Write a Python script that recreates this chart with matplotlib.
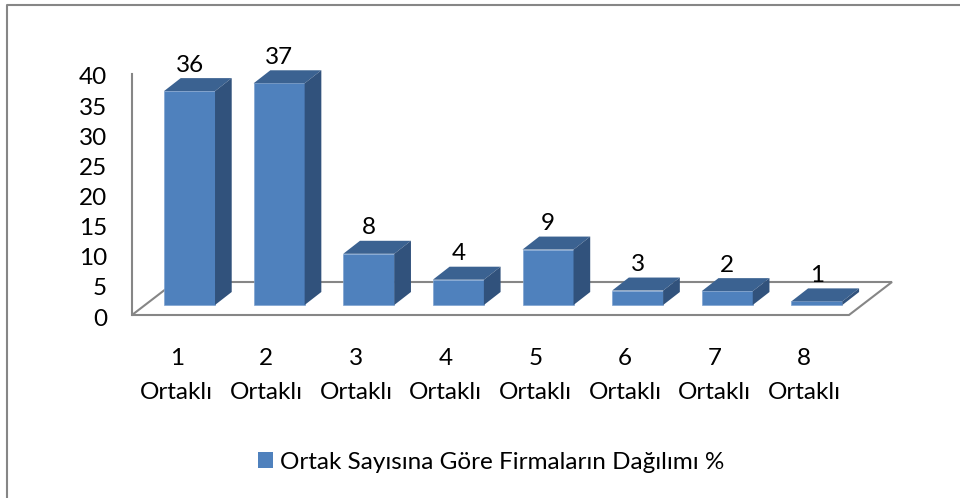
import matplotlib
matplotlib.use("Agg")
from matplotlib import pyplot as plt
from matplotlib.patches import Patch
from matplotlib.transforms import ScaledTranslation

plt.rcParams['font.family'] = ['Lato', 'DejaVu Sans']

# Veriler
categories = ["1\nOrtaklı", "2\nOrtaklı", "3\nOrtaklı", "4\nOrtaklı",
              "5\nOrtaklı", "6\nOrtaklı", "7\nOrtaklı", "8\nOrtaklı"]
values = [35.5, 36.8, 8.5, 4.2, 9.2, 2.4, 2.3, 0.6]
value_labels = ["36", "37", "8", "4", "9", "3", "2", "1"]
y_ticks = [0, 5, 10, 15, 20, 25, 30, 35, 40]
series_name = "Ortak Sayısına Göre Firmaların Dağılımı %"

W, H = 960, 498
FRONT = "#4f81bd"
TOP = "#3b6291"
SIDE = "#31527c"
GRAY = "#868686"
FONT = 17.5

fig = plt.figure(figsize=(W / 100, H / 100), dpi=100)
# çizim alanı: piksel olarak x 132-849, y 74-315
ax = fig.add_axes([132 / W, 1 - 315 / H, 717 / W, 241 / H])
ax.set_xlim(0, len(values))
ax.set_ylim(0, 40)

# 3B görünüm için derinlik (veri birimi)
px_x = len(values) / 717
px_y = 40 / 241
floor_dx, floor_dy = 43 * px_x, 33 * px_y
front_dx, front_dy = 12.7 * px_x, 10 * px_y
bar_dx, bar_dy = 16.7 * px_x, 13 * px_y
bar_w = 51 * px_x

# zemin ve duvar çizgisi
n = len(values)
ax.plot([0, 0], [40, 0], color=GRAY, lw=1.5, clip_on=False, zorder=1)
ax.plot([floor_dx, 0, n, n + floor_dx, floor_dx], [floor_dy, 0, 0, floor_dy, floor_dy],
        color=GRAY, lw=1.5, clip_on=False, zorder=1, solid_joinstyle="miter")

# çubuklar
for i, v in enumerate(values):
    left = i + 0.5 + front_dx - bar_w / 2
    right = left + bar_w
    base = front_dy
    top = base + v
    ax.bar(left, v, width=bar_w, bottom=base, align="edge", color=FRONT,
           edgecolor="#7fa3d1", lw=0.5, zorder=3, clip_on=False)
    ax.fill([left, left + bar_dx, right + bar_dx, right],
            [top, top + bar_dy, top + bar_dy, top], color=TOP, lw=0, zorder=3, clip_on=False)
    ax.fill([right, right + bar_dx, right + bar_dx, right],
            [base, base + bar_dy, top + bar_dy, top], color=SIDE, lw=0, zorder=3, clip_on=False)
    ax.text(i + 0.5 + front_dx, top + bar_dy + 0.4, value_labels[i],
            ha="center", va="bottom", fontsize=FONT, color="black", zorder=4, clip_on=False)

# eksenler
for s in ax.spines.values():
    s.set_visible(False)
ax.patch.set_visible(False)
ax.set_yticks(y_ticks)
ax.set_xticks([i + 0.5 for i in range(n)])
ax.set_xticklabels(categories, linespacing=1.75)
ax.tick_params(axis="both", length=0, labelsize=FONT, colors="black")
ax.tick_params(axis="y", pad=18)
ax.tick_params(axis="x", pad=24)
# y etiketlerini 2 piksel aşağı al
shift = ScaledTranslation(0, -2 / 100, fig.dpi_scale_trans)
for lbl in ax.get_yticklabels():
    lbl.set_transform(lbl.get_transform() + shift)

# lejant
handle = Patch(facecolor=FRONT, edgecolor="none")
fig.legend([handle], [series_name], loc="center", bbox_to_anchor=(491.5 / W, 1 - 462 / H),
           frameon=False, fontsize=FONT, handlelength=0.62, handleheight=0.62,
           handletextpad=0.3, borderpad=0)

# çerçeve (sol ve üst)
fig.add_artist(plt.Line2D([7 / W, 7 / W, 1], [0, 1 - 5 / H, 1 - 5 / H],
                          color=GRAY, lw=1.5, transform=fig.transFigure))

fig.savefig("out.png", dpi=100)
